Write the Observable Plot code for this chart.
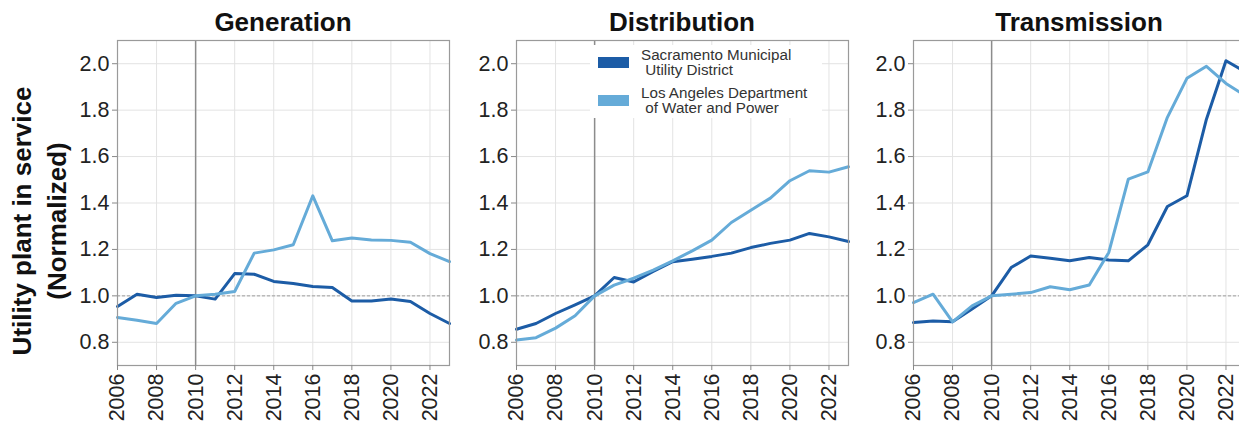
<!DOCTYPE html>
<html><head><meta charset="utf-8">
<script src="https://cdn.jsdelivr.net/npm/d3@7"></script>
<script src="https://cdn.jsdelivr.net/npm/@observablehq/plot@0.6"></script>
<style>
body{margin:0;background:#fff;font-family:"Liberation Sans",Arial,sans-serif;}
#wrap{position:relative;width:1239px;height:421px;overflow:hidden;background:#fff;}
.panel{position:absolute;top:0;}
.panel svg{max-width:none !important;}
.title{position:absolute;top:9px;font-weight:bold;font-size:26px;line-height:26px;text-align:center;color:#111;}
.ylab{position:absolute;font-weight:bold;font-size:26px;line-height:26px;color:#111;white-space:nowrap;transform:translate(-50%,-50%) rotate(-90deg);}
#legend{position:absolute;left:590px;top:45px;width:232px;height:73px;background:#fff;}
.sw{position:absolute;left:8px;width:31px;height:11px;}
.lt{position:absolute;left:51px;font-size:15.2px;line-height:15px;color:#333;white-space:pre;}
</style></head>
<body>
<div id="wrap"></div>
<script>
const years = [2006,2007,2008,2009,2010,2011,2012,2013,2014,2015,2016,2017,2018,2019,2020,2021,2022,2023];
const xTicks = [2006,2008,2010,2012,2014,2016,2018,2020,2022];
const yTicks = [0.8,1.0,1.2,1.4,1.6,1.8,2.0];
const seriesNames = ["Sacramento Municipal Utility District","Los Angeles Department of Water and Power"];
const seriesColors = ["#1c5ca6","#65abd8"];
const panelTitles = ["Generation","Distribution","Transmission"];

const genSMUD  = [0.954,1.007,0.993,1.003,1.000,0.986,1.096,1.093,1.062,1.053,1.040,1.036,0.978,0.978,0.986,0.976,0.924,0.881];
const genLADWP = [0.907,0.895,0.881,0.968,1.000,1.007,1.019,1.184,1.198,1.220,1.431,1.237,1.249,1.241,1.239,1.231,1.182,1.147];
const distSMUD  = [0.856,0.881,0.924,0.961,1.000,1.079,1.060,1.105,1.147,1.158,1.170,1.184,1.208,1.226,1.240,1.269,1.254,1.234];
const distLADWP = [0.810,0.820,0.861,0.914,1.000,1.046,1.076,1.111,1.151,1.194,1.240,1.316,1.369,1.421,1.496,1.539,1.533,1.556];
const transSMUD  = [0.885,0.892,0.888,0.943,1.000,1.122,1.172,1.162,1.151,1.165,1.154,1.151,1.220,1.385,1.431,1.761,2.013,1.964];
const transLADWP = [0.971,1.007,0.888,0.957,1.000,1.007,1.014,1.039,1.026,1.047,1.187,1.503,1.534,1.769,1.937,1.989,1.915,1.862];

const panels = [
  {title: panelTitles[0], series: [genSMUD, genLADWP], left: 0, ml: 117},
  {title: panelTitles[1], series: [distSMUD, distLADWP], left: 400, ml: 116},
  {title: panelTitles[2], series: [transSMUD, transLADWP], left: 796, ml: 117}
];

const wrap = document.getElementById("wrap");
const plotW = 332;

panels.forEach(p => {
  const data = [];
  p.series.forEach((vals, si) => vals.forEach((v, i) => data.push({year: years[i], value: v, series: seriesNames[si]})));
  const w = p.ml + plotW + 8;
  const chart = Plot.plot({
    width: w,
    height: 421,
    marginLeft: p.ml,
    marginRight: 8,
    marginTop: 40,
    marginBottom: 56,
    style: {fontSize: "21.5px", fontFamily: "Liberation Sans, Arial, sans-serif", color: "#222", background: "transparent", overflow: "visible", maxWidth: "none"},
    x: {domain: [2006, 2023]},
    y: {domain: [0.7, 2.1]},
    color: {domain: seriesNames, range: seriesColors},
    marks: [
      Plot.gridX(xTicks, {stroke: "#e3e3e3", strokeOpacity: 1}),
      Plot.gridY(yTicks, {stroke: "#e3e3e3", strokeOpacity: 1}),
      Plot.ruleY([1], {stroke: "#a0a0a0", strokeDasharray: "3,2", strokeWidth: 1}),
      Plot.ruleX([2010], {stroke: "#8c8c8c", strokeWidth: 1.5}),
      Plot.line(data, {x: "year", y: "value", stroke: "series", z: "series", strokeWidth: 3}),
      Plot.frame({stroke: "#9a9a9a", strokeWidth: 1.2}),
      Plot.axisX({ticks: xTicks, tickFormat: d => String(d), tickRotate: -90, tickSize: 5, tickPadding: 3, stroke: "#888", label: null}),
      Plot.axisY({ticks: yTicks, tickFormat: d3.format(".1f"), tickSize: 5, tickPadding: 3, stroke: "#888", label: null})
    ]
  });
  chart.style.maxWidth = "none";
  const div = document.createElement("div");
  div.className = "panel";
  div.style.left = p.left + "px";
  div.style.width = w + "px";
  div.appendChild(chart);
  wrap.appendChild(div);
  const t = document.createElement("div");
  t.className = "title";
  t.textContent = p.title;
  t.style.left = (p.left + p.ml) + "px";
  t.style.width = plotW + "px";
  wrap.appendChild(t);
});

const yl1 = document.createElement("div");
yl1.className = "ylab"; yl1.textContent = "Utility plant in service";
yl1.style.left = "22px"; yl1.style.top = "221px";
wrap.appendChild(yl1);
const yl2 = document.createElement("div");
yl2.className = "ylab"; yl2.textContent = "(Normalized)";
yl2.style.left = "57px"; yl2.style.top = "221px";
wrap.appendChild(yl2);

const leg = document.createElement("div");
leg.id = "legend";
const legLines = [["Sacramento Municipal", " Utility District"], ["Los Angeles Department", " of Water and Power"]];
legLines.forEach((lines, i) => {
  const sw = document.createElement("div");
  sw.className = "sw";
  sw.style.top = (12 + i * 38) + "px";
  sw.style.background = seriesColors[i];
  leg.appendChild(sw);
  const tx = document.createElement("div");
  tx.className = "lt";
  tx.style.top = (2 + i * 38) + "px";
  tx.textContent = lines.join("\n");
  leg.appendChild(tx);
});
wrap.appendChild(leg);
</script>
</body></html>
